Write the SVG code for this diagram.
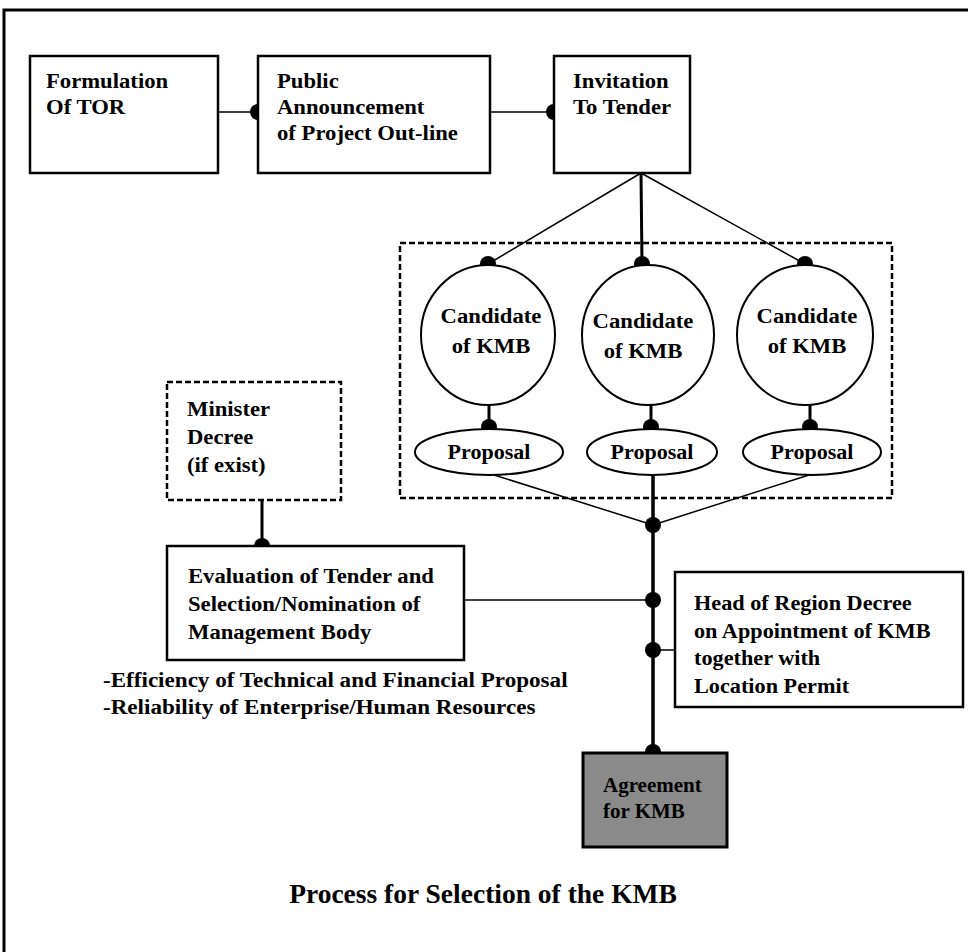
<svg xmlns="http://www.w3.org/2000/svg" width="968" height="952" viewBox="0 0 968 952">
<style>
.bx{fill:#fff;stroke:#000;stroke-width:2.5}
.dsh{fill:none;stroke:#000;stroke-width:2.5;stroke-dasharray:6 3}
.el{fill:#fff;stroke:#000;stroke-width:2}
.t{font-family:"Liberation Serif","Times New Roman",serif;font-weight:bold;font-size:21px;fill:#000}
.m{text-anchor:middle}
.ln{stroke:#000;stroke-width:1.5;fill:none}
.th{stroke:#000;stroke-width:3.5;fill:none}
.dot{fill:#000}
</style>
<rect width="968" height="952" fill="#fff"/>
<path d="M4 952V10H968" fill="none" stroke="#000" stroke-width="3"/>

<g id="connectors">
<line class="ln" x1="218" y1="112" x2="258" y2="112"/>
<line class="ln" x1="490" y1="112" x2="554" y2="112"/>
<line class="ln" x1="641" y1="173" x2="488" y2="264"/>
<line class="th" x1="641" y1="173" x2="642" y2="264" style="stroke-width:3"/>
<line class="ln" x1="641" y1="173" x2="805" y2="264"/>
<line class="th" x1="489" y1="405" x2="489" y2="427" style="stroke-width:3"/>
<line class="th" x1="651" y1="405" x2="651" y2="427" style="stroke-width:3"/>
<line class="th" x1="810" y1="405" x2="810" y2="427" style="stroke-width:3"/>
<line class="ln" x1="494" y1="475" x2="653" y2="525"/>
<line class="ln" x1="809" y1="475" x2="653" y2="525"/>
<line class="th" x1="653" y1="475" x2="653" y2="752"/>
<line class="ln" x1="464" y1="600" x2="653" y2="600"/>
<line class="ln" x1="653" y1="650" x2="675" y2="650"/>
<line class="th" x1="262" y1="500" x2="262" y2="546" style="stroke-width:3"/>
<circle class="dot" cx="258" cy="112" r="8"/>
<circle class="dot" cx="554" cy="112" r="8"/>
<circle class="dot" cx="488" cy="264" r="8"/>
<circle class="dot" cx="642" cy="264" r="8"/>
<circle class="dot" cx="805" cy="264" r="8"/>
<circle class="dot" cx="489" cy="427" r="8"/>
<circle class="dot" cx="651" cy="427" r="8"/>
<circle class="dot" cx="810" cy="427" r="8"/>
<circle class="dot" cx="653" cy="525" r="8"/>
<circle class="dot" cx="653" cy="600" r="8"/>
<circle class="dot" cx="653" cy="650" r="8"/>
<circle class="dot" cx="653" cy="752" r="8"/>
<circle class="dot" cx="262" cy="546" r="8"/>
</g>

<g id="formulation">
<rect class="bx" x="30" y="56" width="188" height="117"/>
<text class="t" transform="translate(46,88) scale(1.08,1)">Formulation</text>
<text class="t" transform="translate(46,114) scale(1.08,1)">Of TOR</text>
</g>
<g id="announcement">
<rect class="bx" x="258" y="56" width="232" height="117"/>
<text class="t" transform="translate(277,88) scale(1.08,1)">Public</text>
<text class="t" transform="translate(277,114) scale(1.08,1)">Announcement</text>
<text class="t" transform="translate(277,140) scale(1.08,1)">of Project Out-line</text>
</g>
<g id="invitation">
<rect class="bx" x="554" y="56" width="136" height="117"/>
<text class="t" transform="translate(573,88) scale(1.08,1)">Invitation</text>
<text class="t" transform="translate(573,114) scale(1.08,1)">To Tender</text>
</g>

<g id="candidates">
<rect class="dsh" x="400" y="243" width="492" height="255"/>
</g>
<g id="candidate1">
<ellipse class="el" cx="488" cy="335" rx="67" ry="70"/>
<text class="t m" transform="translate(491,323) scale(1.08,1)">Candidate</text>
<text class="t m" transform="translate(491,353) scale(1.08,1)">of KMB</text>
</g>
<g id="candidate2">
<ellipse class="el" cx="648" cy="335" rx="66" ry="70"/>
<text class="t m" transform="translate(643,328) scale(1.08,1)">Candidate</text>
<text class="t m" transform="translate(643,358) scale(1.08,1)">of KMB</text>
</g>
<g id="candidate3">
<ellipse class="el" cx="805" cy="335" rx="68" ry="70"/>
<text class="t m" transform="translate(807,323) scale(1.08,1)">Candidate</text>
<text class="t m" transform="translate(807,353) scale(1.08,1)">of KMB</text>
</g>
<g id="proposal1">
<ellipse class="el" cx="489" cy="452" rx="74" ry="23"/>
<text class="t m" transform="translate(489,459) scale(1.05,1)">Proposal</text>
</g>
<g id="proposal2">
<ellipse class="el" cx="652" cy="452" rx="65" ry="23"/>
<text class="t m" transform="translate(652,459) scale(1.05,1)">Proposal</text>
</g>
<g id="proposal3">
<ellipse class="el" cx="812" cy="452" rx="69" ry="23"/>
<text class="t m" transform="translate(812,459) scale(1.05,1)">Proposal</text>
</g>

<g id="minister">
<rect class="dsh" x="167" y="382" width="174" height="118"/>
<text class="t" transform="translate(187,416) scale(1.08,1)">Minister</text>
<text class="t" transform="translate(187,444) scale(1.08,1)">Decree</text>
<text class="t" transform="translate(187,472) scale(1.08,1)">(if exist)</text>
</g>
<g id="evaluation">
<rect class="bx" x="167" y="546" width="297" height="114"/>
<text class="t" transform="translate(188,583) scale(1.08,1)">Evaluation of Tender and</text>
<text class="t" transform="translate(188,611) scale(1.08,1)">Selection/Nomination of</text>
<text class="t" transform="translate(188,639) scale(1.08,1)">Management Body</text>
</g>
<g id="criteria">
<text class="t" transform="translate(103,687) scale(1.1,1)">-Efficiency of Technical and Financial Proposal</text>
<text class="t" transform="translate(103,714) scale(1.1,1)">-Reliability of Enterprise/Human Resources</text>
</g>
<g id="headregion">
<rect class="bx" x="675" y="572" width="288" height="135"/>
<text class="t" transform="translate(694,610) scale(1.06,1)">Head of Region Decree</text>
<text class="t" transform="translate(694,638) scale(1.06,1)">on Appointment of KMB</text>
<text class="t" transform="translate(694,665) scale(1.06,1)">together with</text>
<text class="t" transform="translate(694,693) scale(1.06,1)">Location Permit</text>
</g>
<g id="agreement">
<rect x="583" y="753" width="144" height="94" fill="#8a8a8a" stroke="#000" stroke-width="3"/>
<text class="t" x="603" y="792" fill="#1a1a1a">Agreement</text>
<text class="t" x="603" y="818" fill="#1a1a1a">for KMB</text>
</g>
<g id="title">
<text class="t m" x="483" y="903" style="font-size:27.5px">Process for Selection of the KMB</text>
</g>
</svg>
